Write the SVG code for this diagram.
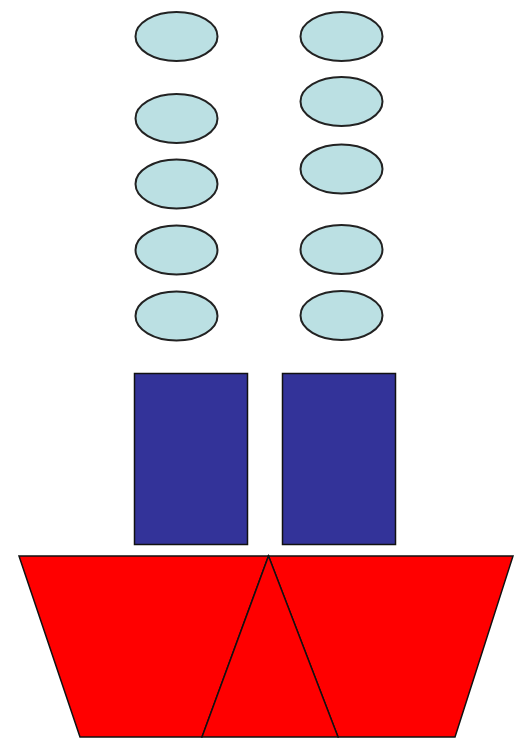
<svg xmlns="http://www.w3.org/2000/svg" width="515" height="746" viewBox="0 0 515 746">
<style>
.e{fill:#bbe0e3;stroke:#222;stroke-width:2}
.r{fill:#333399;stroke:#111;stroke-width:1.5}
.t{fill:#ff0000;stroke:#111;stroke-width:1.5;stroke-linejoin:miter}
</style>
<rect width="515" height="746" fill="#fff"/>
<g id="left-ellipses">
<ellipse class="e" cx="176.5" cy="36.5" rx="41" ry="24.5"/>
<ellipse class="e" cx="176.5" cy="118.5" rx="41" ry="24.5"/>
<ellipse class="e" cx="176.5" cy="184" rx="41" ry="24.5"/>
<ellipse class="e" cx="176.5" cy="250" rx="41" ry="24.5"/>
<ellipse class="e" cx="176.5" cy="316" rx="41" ry="24.5"/>
</g>
<g id="right-ellipses">
<ellipse class="e" cx="341.5" cy="36.5" rx="41" ry="24.5"/>
<ellipse class="e" cx="341.5" cy="101.5" rx="41" ry="24.5"/>
<ellipse class="e" cx="341.5" cy="169" rx="41" ry="24.5"/>
<ellipse class="e" cx="341.5" cy="249.5" rx="41" ry="24.5"/>
<ellipse class="e" cx="341.5" cy="315.5" rx="41" ry="24.5"/>
</g>
<g id="rects">
<rect class="r" x="134.5" y="373.5" width="113" height="171"/>
<rect class="r" x="282.5" y="373.5" width="113" height="171"/>
</g>
<g id="base">
<polygon class="t" points="19,556 268.5,556 202,737 80,737"/>
<polygon class="t" points="268.5,556 513,556 455,737 338,737"/>
<polygon class="t" points="268.5,556 338,737 202,737"/>
</g>
</svg>
